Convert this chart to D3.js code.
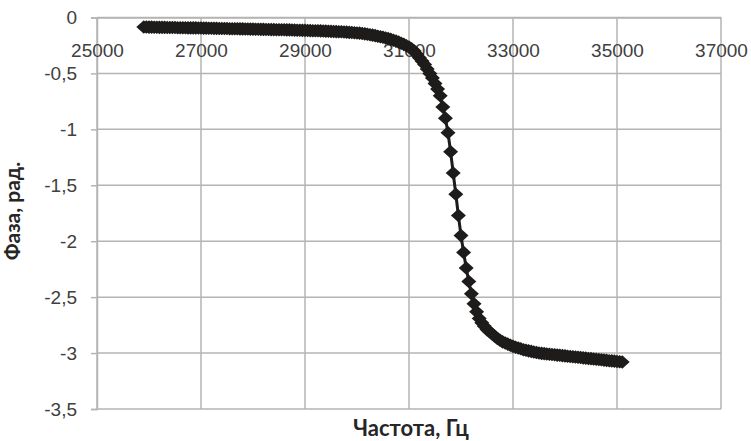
<!DOCTYPE html>
<html>
<head>
<meta charset="utf-8">
<script src="https://cdn.jsdelivr.net/npm/d3@7"></script>
<style>
  body { margin: 0; background: #fff; }
  svg { display: block; font-family: Lato, "Open Sans", sans-serif; }
</style>
</head>
<body>
<svg id="chart" width="751" height="441"></svg>
<script>
// frequency sweep, Hz
const frequency = [
  25900, 25950, 26000, 26050, 26100, 26150, 26200, 26250, 26300, 26350,
  26400, 26450, 26500, 26550, 26600, 26650, 26700, 26750, 26800, 26850,
  26900, 26950, 27000, 27050, 27100, 27150, 27200, 27250, 27300, 27350,
  27400, 27450, 27500, 27550, 27600, 27650, 27700, 27750, 27800, 27850,
  27900, 27950, 28000, 28050, 28100, 28150, 28200, 28250, 28300, 28350,
  28400, 28450, 28500, 28550, 28600, 28650, 28700, 28750, 28800, 28850,
  28900, 28950, 29000, 29050, 29100, 29150, 29200, 29250, 29300, 29350,
  29400, 29450, 29500, 29550, 29600, 29650, 29700, 29750, 29800, 29850,
  29900, 29950, 30000, 30050, 30100, 30150, 30200, 30250, 30300, 30350,
  30400, 30450, 30500, 30550, 30600, 30650, 30700, 30750, 30800, 30850,
  30900, 30950, 31000, 31050, 31100, 31150, 31200, 31250, 31300, 31350,
  31400, 31450, 31500, 31550, 31600, 31650, 31700, 31750, 31800, 31850,
  31900, 31950, 32000, 32050, 32100, 32150, 32200, 32250, 32300, 32350,
  32400, 32450, 32500, 32550, 32600, 32650, 32700, 32750, 32800, 32850,
  32900, 32950, 33000, 33050, 33100, 33150, 33200, 33250, 33300, 33350,
  33400, 33450, 33500, 33550, 33600, 33650, 33700, 33750, 33800, 33850,
  33900, 33950, 34000, 34050, 34100, 34150, 34200, 34250, 34300, 34350,
  34400, 34450, 34500, 34550, 34600, 34650, 34700, 34750, 34800, 34850,
  34900, 34950, 35000, 35050, 35100,
];

// phase, rad
const phase = [
  -0.085, -0.085, -0.086, -0.086, -0.087, -0.087, -0.088, -0.088, -0.088, -0.089,
  -0.089, -0.090, -0.090, -0.091, -0.091, -0.092, -0.092, -0.093, -0.093, -0.093,
  -0.093, -0.094, -0.094, -0.095, -0.095, -0.096, -0.096, -0.097, -0.097, -0.098,
  -0.098, -0.099, -0.099, -0.100, -0.100, -0.101, -0.101, -0.102, -0.102, -0.103,
  -0.103, -0.104, -0.104, -0.105, -0.105, -0.106, -0.106, -0.107, -0.107, -0.108,
  -0.108, -0.109, -0.109, -0.110, -0.110, -0.111, -0.111, -0.112, -0.113, -0.114,
  -0.114, -0.115, -0.115, -0.116, -0.117, -0.118, -0.118, -0.119, -0.120, -0.121,
  -0.122, -0.123, -0.124, -0.125, -0.126, -0.127, -0.128, -0.130, -0.131, -0.133,
  -0.134, -0.136, -0.138, -0.140, -0.143, -0.146, -0.150, -0.154, -0.158, -0.162,
  -0.167, -0.172, -0.177, -0.183, -0.189, -0.196, -0.203, -0.211, -0.220, -0.230,
  -0.240, -0.252, -0.265, -0.280, -0.300, -0.330, -0.360, -0.390, -0.420, -0.460,
  -0.500, -0.540, -0.590, -0.640, -0.700, -0.800, -0.900, -1.030, -1.200, -1.390,
  -1.580, -1.770, -1.950, -2.100, -2.240, -2.360, -2.470, -2.560, -2.630, -2.690,
  -2.730, -2.760, -2.790, -2.810, -2.830, -2.850, -2.870, -2.885, -2.900, -2.910,
  -2.920, -2.930, -2.940, -2.948, -2.955, -2.962, -2.970, -2.975, -2.980, -2.985,
  -2.990, -2.995, -3.000, -3.003, -3.005, -3.008, -3.010, -3.013, -3.015, -3.018,
  -3.020, -3.023, -3.025, -3.028, -3.030, -3.033, -3.035, -3.038, -3.040, -3.043,
  -3.045, -3.048, -3.050, -3.053, -3.055, -3.058, -3.060, -3.063, -3.065, -3.068,
  -3.070, -3.072, -3.075, -3.078, -3.080,
];

const xTicks = [25000, 27000, 29000, 31000, 33000, 35000, 37000];
const yTicks = [0, -0.5, -1, -1.5, -2, -2.5, -3, -3.5];

const margin = { top: 17.5, right: 30, bottom: 32, left: 97 };
const width = 751 - margin.left - margin.right;
const height = 441 - margin.top - margin.bottom;

const x = d3.scaleLinear().domain([25000, 37000]).range([0, width]);
const y = d3.scaleLinear().domain([-3.5, 0]).range([height, 0]);

const svg = d3.select('#chart');
const g = svg.append('g')
  .attr('transform', `translate(${margin.left}, ${margin.top})`);

const gridColor = '#b4b4b4';
const textColor = '#404040';
const fmt = d => String(d).replace('.', ',');

// horizontal grid + left axis
const yAxis = g.append('g')
  .call(d3.axisLeft(y).tickValues(yTicks).tickSize(6).tickPadding(14).tickFormat(fmt));
yAxis.select('.domain').attr('stroke', gridColor).attr('stroke-width', 1.5);
yAxis.selectAll('.tick line').attr('stroke', gridColor).attr('stroke-width', 1.5);
yAxis.selectAll('.tick text')
  .attr('fill', textColor)
  .style('font-size', '19px');

g.append('g')
  .selectAll('line')
  .data(yTicks)
  .join('line')
  .attr('x1', 0)
  .attr('x2', width)
  .attr('y1', d => y(d))
  .attr('y2', d => y(d))
  .attr('stroke', gridColor)
  .attr('stroke-width', 1.5);

// vertical grid
g.append('g')
  .selectAll('line')
  .data(xTicks)
  .join('line')
  .attr('x1', d => x(d))
  .attr('x2', d => x(d))
  .attr('y1', 0)
  .attr('y2', height)
  .attr('stroke', gridColor)
  .attr('stroke-width', 1.5);

// x axis sits on the zero line, labels below it
const xAxis = g.append('g')
  .call(d3.axisBottom(x).tickValues(xTicks).tickSize(0).tickPadding(26).tickFormat(d => d));
xAxis.select('.domain').attr('stroke', gridColor).attr('stroke-width', 1.5);
xAxis.selectAll('.tick text')
  .attr('fill', textColor)
  .style('font-size', '19px');

// series
const points = frequency.map((f, i) => ({ f, p: phase[i] }));
const line = d3.line()
  .x(d => x(d.f))
  .y(d => y(d.p));

g.append('path')
  .attr('d', line(points))
  .attr('fill', 'none')
  .attr('stroke', '#1e1b1b')
  .attr('stroke-width', 3)
  .attr('stroke-linejoin', 'round');

const diamond = 'M0,-6.8L7.5,0L0,6.8L-7.5,0Z';
g.append('g')
  .selectAll('path')
  .data(points)
  .join('path')
  .attr('d', diamond)
  .attr('transform', d => `translate(${x(d.f)}, ${y(d.p)})`)
  .attr('fill', '#1e1b1b');

// axis titles
svg.append('text')
  .attr('transform', 'translate(20, 211) rotate(-90)')
  .attr('text-anchor', 'middle')
  .attr('fill', '#262626')
  .style('font-size', '21px')
  .style('font-weight', 'bold')
  .text('Фаза, рад.');

svg.append('text')
  .attr('x', 411)
  .attr('y', 436)
  .attr('text-anchor', 'middle')
  .attr('fill', '#262626')
  .style('font-size', '22px')
  .style('font-weight', 'bold')
  .text('Частота, Гц');
</script>
</body>
</html>
